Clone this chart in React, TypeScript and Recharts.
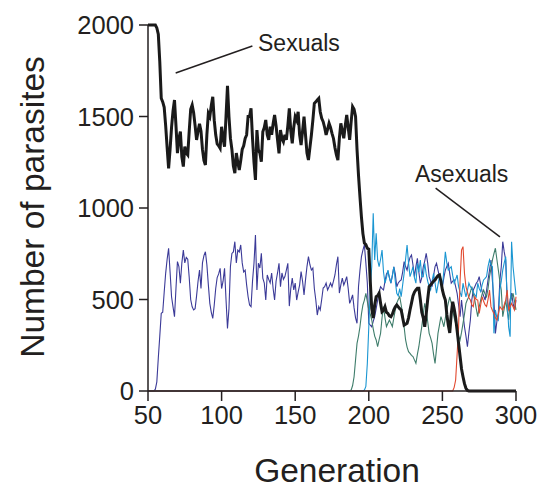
import React from 'react';
import { LineChart, Line, XAxis, YAxis, ReferenceLine } from 'recharts';

const FIRST_GEN = 50;
const LAST_GEN = 300;
const xTicks = [50, 100, 150, 200, 250, 300];
const yTicks = [0, 500, 1000, 1500, 2000];

// Sexual parasites (thick black), generation 50 onward
const sexualsStart = 50;
const sexuals = [
  2000, 2000, 2000, 2000, 2000, 2000, 1984, 1950, 1800, 1600,
  1580, 1550, 1450, 1330, 1217, 1320, 1440, 1530, 1590, 1450,
  1300, 1380, 1417, 1280, 1226, 1335, 1300, 1290, 1420, 1540,
  1563, 1520, 1450, 1372, 1420, 1460, 1420, 1320, 1260, 1235,
  1400, 1517, 1500, 1560, 1608, 1480, 1400, 1350, 1340, 1326,
  1444, 1380, 1335, 1500, 1667, 1500, 1380, 1320, 1230, 1190,
  1300, 1250, 1208, 1260, 1320, 1340, 1380, 1399, 1500, 1500,
  1545, 1380, 1250, 1153, 1426, 1317, 1300, 1253, 1417, 1440,
  1481, 1400, 1372, 1444, 1400, 1460, 1508, 1450, 1372, 1299,
  1426, 1380, 1362, 1400, 1372, 1450, 1545, 1420, 1353, 1440,
  1499, 1480, 1526, 1400, 1344, 1420, 1499, 1400, 1300, 1262,
  1330, 1399, 1480, 1572, 1580, 1590, 1599, 1526, 1490, 1472,
  1440, 1399, 1430, 1463, 1440, 1408, 1380, 1330, 1290, 1262,
  1380, 1463, 1420, 1381, 1450, 1508, 1440, 1372, 1470, 1554,
  1540, 1500, 1320, 1180, 1060, 950, 860, 808, 800, 780,
  775, 600, 450, 399, 470, 515, 520, 534, 480, 433,
  440, 460, 430, 424, 410, 406, 420, 443, 460, 470,
  460, 450, 443, 400, 360, 365, 370, 400, 443, 480,
  520, 540, 552, 561, 561, 500, 430, 400, 351, 420,
  500, 570, 580, 590, 600, 607, 620, 630, 634, 600,
  552, 520, 497, 420, 360, 317, 420, 488, 450, 400,
  330, 260, 190, 120, 78, 40, 15, 3, 0, 0,
];

// First asexual clone (navy), generation 50 onward
const clone1Start = 50;
const clone1 = [
  0, 0, 0, 0, 0, 10, 50, 180, 300, 424,
  430, 540, 643, 720, 780, 650, 515, 460, 406, 560,
  707, 680, 589, 700, 770, 700, 730, 720, 620, 500,
  460, 443, 450, 520, 600, 661, 560, 700, 740, 761,
  690, 580, 479, 430, 397, 470, 560, 620, 640, 670,
  560, 600, 670, 500, 342, 450, 680, 752, 760, 816,
  700, 770, 760, 798, 700, 650, 660, 580, 515, 470,
  461, 600, 698, 852, 552, 698, 672, 752, 617, 590,
  497, 634, 610, 590, 645, 560, 497, 600, 645, 698,
  570, 645, 610, 625, 660, 698, 464, 560, 617, 552,
  590, 497, 540, 579, 652, 600, 525, 607, 680, 734,
  690, 661, 672, 560, 497, 415, 461, 443, 500, 563,
  570, 590, 552, 570, 590, 570, 600, 634, 690, 734,
  535, 580, 617, 579, 600, 625, 560, 479, 500, 525,
  454, 400, 370, 570, 660, 734, 770, 798, 700, 590,
  370, 360, 351, 380, 406, 450, 497, 540, 570, 560,
  552, 600, 640, 652, 620, 589, 630, 679, 640, 570,
  590, 600, 607, 650, 707, 680, 661, 700, 730, 743,
  690, 625, 680, 725, 650, 589, 620, 679, 710, 752,
  700, 625, 600, 570, 630, 680, 698, 660, 625, 600,
  570, 620, 661, 680, 698, 640, 589, 600, 607, 570,
  534, 470, 406, 497, 420, 351, 300, 242, 320, 388,
  500, 552, 570, 589, 600, 625, 580, 543, 520, 497,
  550, 607, 660, 716, 600, 497, 315, 380, 424, 600,
  679, 816, 760, 716, 497, 443, 500, 535, 480, 443,
  497,
];

// Second asexual clone (dark green), generation 188 onward
const clone2Start = 188;
const clone2 = [
  5, 30, 78, 170, 260, 300, 351, 420, 470, 497,
  534, 490, 443, 420, 388, 340, 300, 279, 242, 280,
  315, 400, 461, 400, 352, 370, 388, 370, 352, 400,
  443, 480, 500, 515, 470, 424, 350, 279, 240, 215,
  206, 195, 188, 170, 151, 200, 242, 300, 352, 420,
  479, 440, 380, 315, 290, 260, 200, 151, 230, 315,
  360, 406, 380, 351, 400, 443, 480, 515, 480, 443,
  400, 370, 351, 300, 279, 320, 370, 420, 479, 500,
  515, 540, 570, 530, 497, 450, 406, 460, 497, 530,
  552, 530, 515, 560, 625, 670, 716, 750, 780, 720,
  661, 600, 552, 406, 450, 497, 440, 388, 479, 510,
  534, 490, 443,
];

// Third asexual clone (light blue), generation 196 onward
const clone3Start = 196;
const clone3 = [
  0, 5, 25, 150, 351, 560, 679, 971, 716, 862,
  716, 679, 720, 770, 650, 589, 620, 661, 620, 589,
  630, 679, 600, 534, 520, 560, 515, 580, 643, 720,
  798, 700, 625, 650, 679, 620, 589, 698, 650, 716,
  625, 625, 698, 640, 600, 570, 552, 600, 643, 590,
  534, 580, 625, 600, 570, 660, 761, 700, 661, 670,
  679, 630, 589, 610, 634, 570, 540, 515, 589, 550,
  515, 550, 589, 570, 561, 540, 525, 515, 589, 560,
  543, 580, 607, 615, 625, 680, 716, 690, 679, 315,
  443, 400, 388, 552, 600, 661, 700, 734, 497, 350,
  297, 816, 679, 600, 525,
];

// Fourth asexual clone (red), generation 258 onward
const clone4Start = 258;
const clone4 = [
  20, 60, 200, 351, 600, 770, 789, 643, 570, 540,
  510, 497, 470, 461, 515, 500, 497, 424, 470, 515,
  490, 470, 461, 500, 552, 461, 440, 424, 400, 388,
  420, 461, 450, 443, 470, 497, 552, 443, 460, 479,
  460, 443, 515,
];

const pick = (arr: number[], start: number, g: number) =>
  g >= start && g - start < arr.length ? arr[g - start] : 0;

const rows: Array<Record<string, number>> = [];
for (let g = FIRST_GEN; g <= LAST_GEN; g++) {
  rows.push({
    gen: g,
    sexuals: pick(sexuals, sexualsStart, g),
    clone1: pick(clone1, clone1Start, g),
    clone2: pick(clone2, clone2Start, g),
    clone3: pick(clone3, clone3Start, g),
    clone4: pick(clone4, clone4Start, g),
  });
}

const INK = '#231f20';
const FONT = '"Liberation Sans", Arial, Helvetica, sans-serif';

export default function App() {
  return (
    <div style={{ position: 'absolute', left: 0, top: 0, width: 543, height: 489, background: '#fff' }}>
      <LineChart
        width={543}
        height={489}
        data={rows}
        margin={{ top: 25, right: 27, bottom: 0, left: 0 }}
      >
        <XAxis
          dataKey="gen"
          type="number"
          domain={[FIRST_GEN, LAST_GEN]}
          ticks={xTicks}
          interval={0}
          height={98}
          tickSize={10}
          tickMargin={5}
          axisLine={{ stroke: INK, strokeWidth: 1.5 }}
          tickLine={{ stroke: INK, strokeWidth: 1.5 }}
          tick={{ fill: INK, fontSize: 25.5, fontFamily: FONT }}
        />
        <YAxis
          type="number"
          domain={[0, 2000]}
          ticks={yTicks}
          interval={0}
          width={148}
          tickSize={9}
          tickMargin={5}
          axisLine={{ stroke: INK, strokeWidth: 1.5 }}
          tickLine={{ stroke: INK, strokeWidth: 1.5 }}
          tick={{ fill: INK, fontSize: 25.5, fontFamily: FONT }}
        />
        <Line dataKey="clone1" stroke="#3b3a98" strokeWidth={1.1} dot={false} isAnimationActive={false} type="linear" />
        <Line dataKey="clone2" stroke="#3f7d6b" strokeWidth={1.1} dot={false} isAnimationActive={false} type="linear" />
        <Line dataKey="clone3" stroke="#1a96d2" strokeWidth={1.1} dot={false} isAnimationActive={false} type="linear" />
        <Line dataKey="clone4" stroke="#e2492f" strokeWidth={1.1} dot={false} isAnimationActive={false} type="linear" />
        <Line dataKey="sexuals" stroke="#1a1a1a" strokeWidth={3} dot={false} isAnimationActive={false} type="linear" />
        <ReferenceLine
          segment={[{ x: 68.8, y: 1738 }, { x: 120.9, y: 1885 }]}
          stroke={INK}
          strokeWidth={1.5}
        />
        <ReferenceLine
          segment={[{ x: 245.4, y: 1109 }, { x: 289.1, y: 842 }]}
          stroke={INK}
          strokeWidth={1.5}
        />
      </LineChart>
      <svg
        width={543}
        height={489}
        style={{ position: 'absolute', left: 0, top: 0, pointerEvents: 'none' }}
      >
        <text x={258} y={51} fontSize={23} fontFamily={FONT} fill={INK}>Sexuals</text>
        <text x={415} y={182} fontSize={23} fontFamily={FONT} fill={INK}>Asexuals</text>
        <text x={337} y={482} fontSize={33.5} fontFamily={FONT} fill={INK} textAnchor="middle">Generation</text>
        <text
          x={44}
          y={207}
          fontSize={33.5}
          fontFamily={FONT}
          fill={INK}
          textAnchor="middle"
          transform="rotate(-90, 44, 207)"
        >
          Number of parasites
        </text>
      </svg>
    </div>
  );
}
